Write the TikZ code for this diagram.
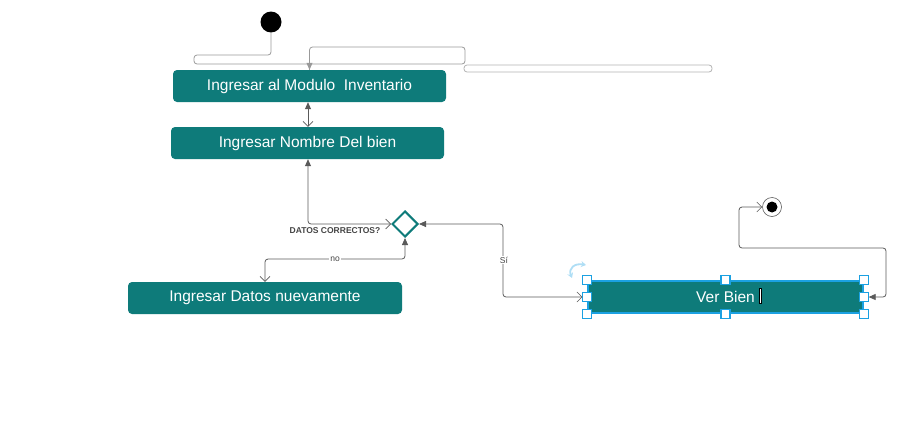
\documentclass[tikz,border=0pt]{standalone}
\usepackage{fontspec}
\setmainfont{Liberation Sans}
\usetikzlibrary{arrows.meta,shapes.geometric}
\definecolor{tealbox}{HTML}{0E7B7A}
\definecolor{selblue}{HTML}{1BA1E2}
\definecolor{conncol}{HTML}{5A5A5A}
\definecolor{lblcol}{HTML}{444444}
\tikzset{
  openv/.tip={Straight Barb[length=5pt,width=10pt,line width=0.6pt]},
  filledtip/.tip={Triangle[length=7pt,width=6pt]},
  act/.style={fill=tealbox, rounded corners=4pt, text=white,
    font=\fontsize{15.5}{17}\selectfont, minimum height=32pt, inner sep=0pt},
  conn/.style={draw=conncol, line width=0.8pt, rounded corners=3pt},
  topconn/.style={draw=gray!80, line width=0.8pt, rounded corners=3pt},
  lbl/.style={text=lblcol, font=\fontsize{8.5}{10}\selectfont, inner sep=1pt},
  handle/.style={draw=selblue, fill=white, line width=1.1pt, minimum size=9pt, inner sep=0pt},
}
\begin{document}
\begin{tikzpicture}[x=1pt,y=-1pt]
\useasboundingbox (0,0) rectangle (915,434);

% nodes
\node[circle, fill=black, minimum size=21pt, inner sep=0pt] (s) at (271,22) {};
\node[act, minimum width=273pt] (m1) at (309.5,86) {Ingresar al Modulo\ \ Inventario};
\node[act, minimum width=273pt] (m2) at (307.5,143) {Ingresar Nombre Del bien};
\node[diamond, draw=tealbox, line width=2pt, fill=white, minimum width=26pt,
      minimum height=26pt, inner sep=0pt] (d) at (405,224) {};
\node[act, minimum width=274pt] (m3) at (265,298) {Ingresar Datos nuevamente};
\node[draw=selblue, fill=tealbox, line width=1.2pt, minimum width=275pt,
      minimum height=32pt, inner sep=0pt, text=white,
      font=\fontsize{15.5}{17}\selectfont] (vb) at (725.5,297) {Ver Bien};
\node[circle, draw=conncol, fill=white, line width=0.6pt, minimum size=19pt, inner sep=0pt] (e) at (772,207) {};
\node[circle, fill=black, minimum size=11pt, inner sep=0pt] (ei) at (e) {};

\coordinate (x308) at (308,0);

% top connector from start
\draw[topconn] (s.south) -- (271,55) -- (194,55) -- (194,64) -- (465,64)
   -- (465,47) -- (309.5,47) -- (m1.north);
\draw[-{Triangle[length=7pt,width=6pt]}, gray!80, line width=0.8pt] (309.5,60) -- (m1.north);
\draw[draw=gray!60, line width=0.8pt, rounded corners=3pt] (464,65) rectangle (712,72);

% m1 <-> m2
\draw[conn, {filledtip}-{openv}] (m1.south -| x308) -- (m2.north -| x308);

% diamond -> m2
\draw[conn, {openv}-{filledtip}] (d.west) -- (308,224) -- (m2.south -| x308);
\node[lbl, font=\bfseries\fontsize{8.5}{10}\selectfont] (q) at (335,231) {DATOS CORRECTOS?};

% diamond -> m3 (no)
\draw[conn, {filledtip}-{openv}] (d.south) -- (405,259) -- (265,259) -- (m3.north);
\node[lbl, fill=white] (no) at (335,259) {no};

% selection handles
\node[handle] (h1) at (vb.north west) {};
\node[handle] (h2) at (vb.north) {};
\node[handle] (h3) at (vb.north east) {};
\node[handle] (h4) at (vb.west) {};
\node[handle] (h5) at (vb.east) {};
\node[handle] (h6) at (vb.south west) {};
\node[handle] (h7) at (vb.south) {};
\node[handle] (h8) at (vb.south east) {};

% Ver Bien -> diamond (Si)
\draw[conn, {openv}-{filledtip}] (h4.west) -- (503,297) -- (503,224) -- (d.east);
\node[lbl, fill=white] (si) at (504,260) {Sí};

% Ver Bien -> end
\draw[conn, {filledtip}-{openv}] (h5.east) -- (886,297) -- (886,248) -- (739,248) -- (739,207) -- (e.west);

% rotate icon
\draw[selblue!35, line width=1.8pt, {Stealth[length=5pt,width=6pt]}-{Stealth[length=5pt,width=6pt]}]
  (572,278) .. controls (568,268) and (575,263) .. (586,265);

% text cursor
\draw[black, fill=white, line width=0.4pt] (759,288) rectangle (761.5,303);
\end{tikzpicture}
\end{document}
